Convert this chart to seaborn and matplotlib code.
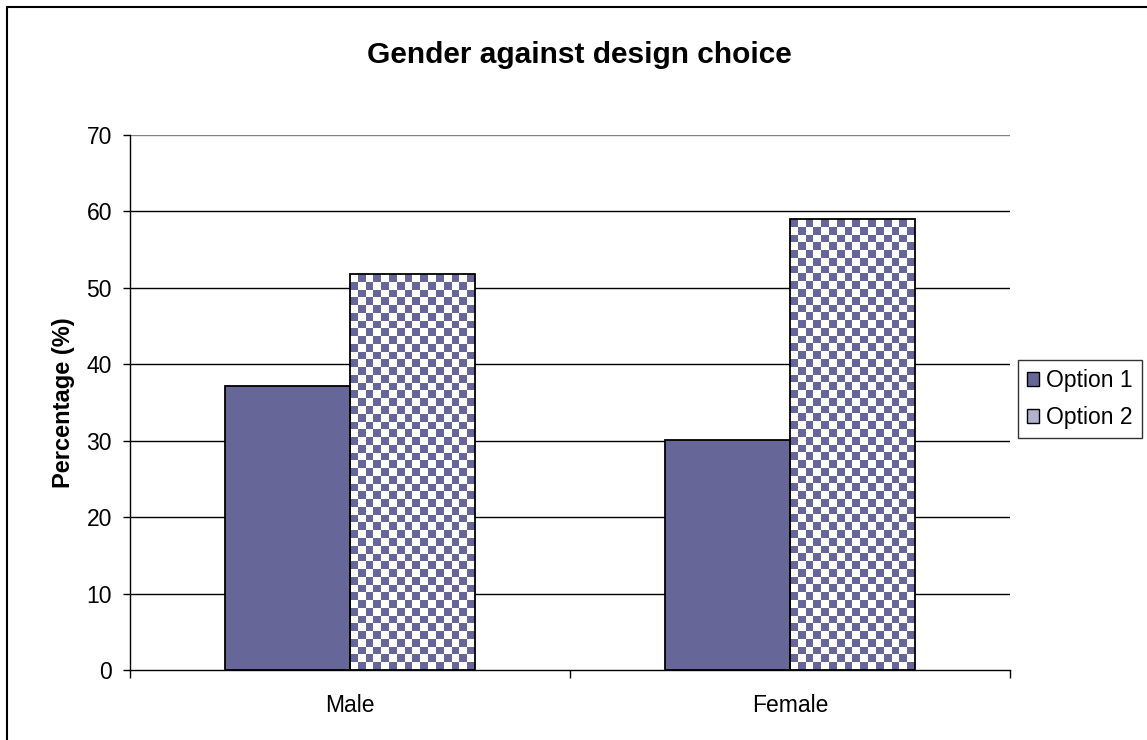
import numpy as np
import pandas as pd
import seaborn as sns
import matplotlib.pyplot as plt
from matplotlib.colors import ListedColormap
from matplotlib.patches import Patch, Rectangle

# values
genders = ['Male', 'Female']
options = ['Option 1', 'Option 2']
option1 = [37.2, 30.1]
option2 = [51.8, 59.0]
y_ticks = [0, 10, 20, 30, 40, 50, 60, 70]

df = pd.DataFrame({
    'gender': genders * 2,
    'option': [options[0]] * 2 + [options[1]] * 2,
    'pct': option1 + option2,
})

sns.set_style("white")
plt.rcParams['font.family'] = ['Liberation Sans', 'DejaVu Sans']
plt.rcParams['text.color'] = 'black'
plt.rcParams['xtick.color'] = 'black'
plt.rcParams['ytick.color'] = 'black'
plt.rcParams['axes.labelcolor'] = 'black'

DARK = '#666699'

fig = plt.figure(figsize=(11.47, 7.4), dpi=100)
ax = fig.add_axes([130 / 1147, 1 - 670 / 740, 880 / 1147, 535 / 740])

sns.barplot(data=df, x='gender', y='pct', hue='option', hue_order=options,
            order=genders, palette=[DARK, 'white'], saturation=1, width=0.568,
            gap=0, edgecolor='black', linewidth=1.3, legend=False, ax=ax,
            zorder=3)

ax.set_xlim(-0.5, 1.5)
ax.set_ylim(0, 70)
ax.set_yticks(y_ticks)

# grid: black lines, top one grey
for v in y_ticks[1:]:
    ax.axhline(v, color='#808080' if v == 70 else 'black', lw=1.0, zorder=1)

# checkered fill for option 2 bars
fig.canvas.draw()
cmap = ListedColormap(['white', DARK])
for patch in ax.patches[len(genders):]:
    bb = patch.get_bbox()
    (x0, y0), (x1, y1) = ax.transData.transform([[bb.x0, bb.y0], [bb.x1, bb.y1]])
    nx = max(1, int(round((x1 - x0) / 7.8)))
    ny = max(1, int(round((y1 - y0) / 7.8)))
    cells = np.indices((ny, nx)).sum(axis=0) % 2
    im = ax.imshow(cells, cmap=cmap, extent=[bb.x0, bb.x1, bb.y0, bb.y1],
                   origin='lower', aspect='auto', interpolation='nearest',
                   zorder=2.5)
    im.set_clip_path(patch)
    patch.set_facecolor('none')
    patch.set_zorder(4)

ax.set_xlim(-0.5, 1.5)
ax.set_ylim(0, 70)

for side in ['top', 'right']:
    ax.spines[side].set_visible(False)
for side in ['left', 'bottom']:
    ax.spines[side].set_color('black')
    ax.spines[side].set_linewidth(1.0)
    ax.spines[side].set_zorder(5)

ax.tick_params(axis='y', direction='out', length=5, width=1, color='black',
               labelsize=16.5, pad=8, left=True)
ax.tick_params(axis='x', which='major', length=0, labelsize=16.5, pad=17)
ax.set_xticks([-0.5, 0.5, 1.5], minor=True)
ax.tick_params(axis='x', which='minor', direction='out', length=6, width=1,
               color='black', bottom=True)

ax.set_xlabel('')
ax.set_ylabel('Percentage (%)', fontsize=17, fontweight='bold')
ax.yaxis.set_label_coords(-0.063, 0.5)

fig.text(0.505, 0.926, 'Gender against design choice', ha='center', va='center',
         fontsize=21.5, fontweight='bold')

handles = [Patch(facecolor=DARK, edgecolor='black', lw=1),
           Patch(facecolor='#b2b2cc', edgecolor='black', lw=1)]
leg = fig.legend(handles, options, loc='upper left',
                 bbox_to_anchor=(1018 / 1147, 1 - 360 / 740),
                 fontsize=16.5, frameon=True, fancybox=False,
                 handlelength=0.55, handleheight=0.55, handletextpad=0.3,
                 borderpad=0.38, labelspacing=0.62, borderaxespad=0)
leg.get_frame().set_edgecolor('black')
leg.get_frame().set_linewidth(1.0)

# outer chart border
fig.patches.append(Rectangle((7 / 1147, -0.01), 1.02, 1 - 7 / 740 + 0.01,
                             transform=fig.transFigure, fill=False,
                             edgecolor='black', lw=1.5))

fig.savefig('out.png', dpi=100)
